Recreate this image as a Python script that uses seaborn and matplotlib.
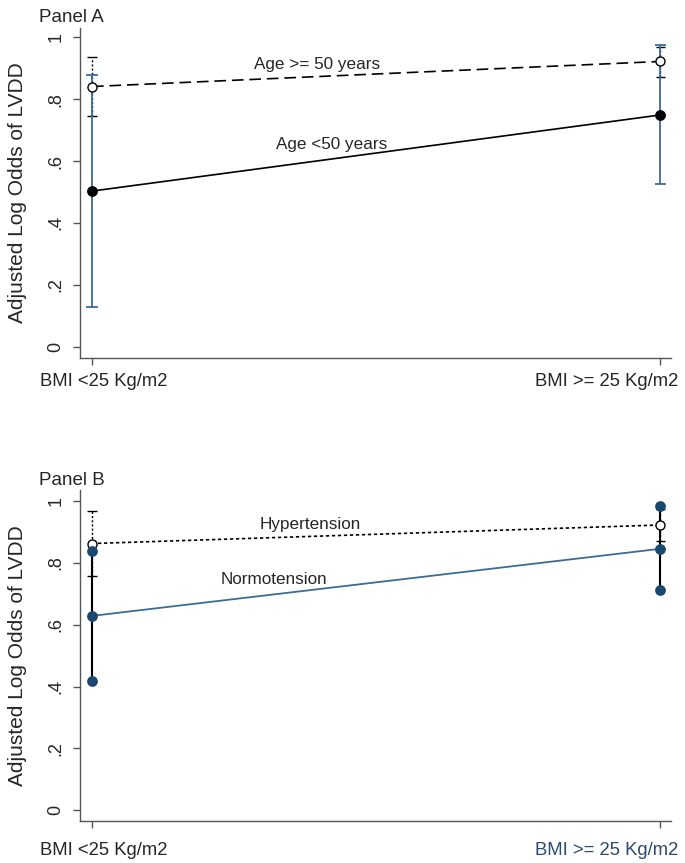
import pandas as pd
import matplotlib.pyplot as plt
import matplotlib.transforms as mtransforms
import seaborn as sns

# categories / tick labels
bmi_groups = ["BMI <25 Kg/m2", "BMI >= 25 Kg/m2"]
y_ticks = [0, 0.2, 0.4, 0.6, 0.8, 1.0]
y_ticklabels = ["0", ".2", ".4", ".6", ".8", "1"]

# Panel A: age groups
age_young = [0.503, 0.749]
age_young_lo = [0.129, 0.526]
age_young_hi = [0.879, 0.975]
age_old = [0.841, 0.922]
age_old_lo = [0.746, 0.872]
age_old_hi = [0.938, 0.970]

# Panel B: blood pressure groups
normo = [0.629, 0.846]
normo_lo = [0.419, 0.712]
normo_hi = [0.839, 0.983]
hyper = [0.863, 0.923]
hyper_lo = [0.758, 0.871]
hyper_hi = [0.968, 0.975]

navy = "#1a476f"
blue_line = "#3b6c96"
spine_col = "#555555"

sns.set_style("white")
plt.rcParams["font.family"] = ["Liberation Sans", "DejaVu Sans"]

fig = plt.figure(figsize=(6.85, 8.63), dpi=100)
axA = fig.add_axes([0.1168, 0.5855, 0.8628, 0.382])
axB = fig.add_axes([0.1168, 0.049, 0.8628, 0.383])

pos = [0, 1]

#---- Panel A ----
dfA = pd.DataFrame({"bmi": pos, "young": age_young, "old": age_old})
# CI bars
axA.vlines(pos, age_old_lo, age_old_hi, colors="black", linestyles=(0, (1.5, 1.5)), lw=1)
axA.hlines(age_old_lo + age_old_hi, [p - 0.008 for p in pos] * 2, [p + 0.008 for p in pos] * 2,
           colors="black", lw=1)
axA.vlines(pos, age_young_lo, age_young_hi, colors=blue_line, lw=1.3)
axA.hlines(age_young_lo + age_young_hi, [p - 0.01 for p in pos] * 2, [p + 0.01 for p in pos] * 2,
           colors=blue_line, lw=1.3)
sns.lineplot(data=dfA, x="bmi", y="old", ax=axA, color="black", lw=1.2,
             linestyle=(0, (7, 3.5)), marker="o", markersize=6.5, mfc="white", mec="black", mew=1)
sns.lineplot(data=dfA, x="bmi", y="young", ax=axA, color="black", lw=1.2,
             marker="o", markersize=7, mfc="black", mec="black")
axA.text(0.396, 0.911, "Age >= 50 years", ha="center", va="center", fontsize=12.3)
axA.text(0.422, 0.655, "Age <50 years", ha="center", va="center", fontsize=12.3)
axA.set_ylim(-0.0356, 1.030)

#---- Panel B ----
dfB = pd.DataFrame({"bmi": pos, "normo": normo, "hyper": hyper})
axB.vlines(pos, hyper_lo, hyper_hi, colors="black", linestyles=(0, (1.5, 1.5)), lw=1)
axB.hlines(hyper_lo + hyper_hi, [p - 0.008 for p in pos] * 2, [p + 0.008 for p in pos] * 2,
           colors="black", lw=1)
axB.vlines(pos, normo_lo, normo_hi, colors="black", lw=1.5)
axB.scatter(pos * 2, normo_lo + normo_hi, s=45, color=navy, zorder=3)
sns.lineplot(data=dfB, x="bmi", y="hyper", ax=axB, color="black", lw=1.2,
             linestyle=(0, (2, 1.6)), marker="o", markersize=6.5, mfc="white", mec="black", mew=1)
sns.lineplot(data=dfB, x="bmi", y="normo", ax=axB, color=blue_line, lw=1.3,
             marker="o", markersize=7, mfc=navy, mec=navy)
axB.text(0.384, 0.926, "Hypertension", ha="center", va="center", fontsize=12.3)
axB.text(0.320, 0.748, "Normotension", ha="center", va="center", fontsize=12.3)
axB.set_ylim(-0.0336, 1.0356)

for ax, title, xpad in [(axA, "Panel A", 6), (axB, "Panel B", 10)]:
    ax.set_xlim(-0.0211, 1.019)
    ax.set_xticks(pos)
    ax.set_xticklabels(bmi_groups, fontsize=13.3)
    ax.set_yticks(y_ticks)
    ax.set_yticklabels(y_ticklabels, fontsize=13, rotation=90, va="center")
    ax.set_xlabel("")
    ax.set_ylabel("Adjusted Log Odds of LVDD", fontsize=15, labelpad=15)
    sns.despine(ax=ax)
    for s in ["left", "bottom"]:
        ax.spines[s].set_color(spine_col)
        ax.spines[s].set_linewidth(1)
    ax.tick_params(axis="both", direction="out", length=5, width=1, color=spine_col,
                   left=True, bottom=True, pad=6)
    ax.tick_params(axis="x", pad=xpad)
    ax.text(-0.07, 1.005, title, transform=ax.transAxes, fontsize=13.5, ha="left", va="bottom")
    lbls = ax.get_xticklabels()
    lbls[0].set_transform(lbls[0].get_transform() + mtransforms.ScaledTranslation(0.12, 0, fig.dpi_scale_trans))
    lbls[1].set_horizontalalignment("right")
    lbls[1].set_transform(lbls[1].get_transform() + mtransforms.ScaledTranslation(0.18, 0, fig.dpi_scale_trans))

axB.get_xticklabels()[1].set_color("#2b4a6f")

fig.savefig("out.png", dpi=100)
